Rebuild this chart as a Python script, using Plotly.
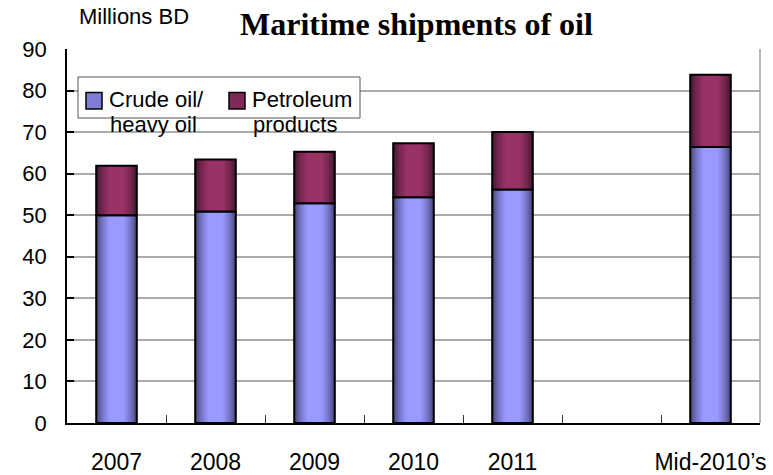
import plotly.graph_objects as go

# Maritime shipments of oil, millions of barrels per day
categories = ["2007", "2008", "2009", "2010", "2011", " ", "Mid-2010\u2019s"]
crude_heavy = [50.0, 50.9, 52.9, 54.3, 56.2, None, 66.4]
petroleum_products = [11.9, 12.5, 12.4, 13.0, 13.8, None, 17.4]
y_ticks = [0, 10, 20, 30, 40, 50, 60, 70, 80, 90]

W, H = 773, 475
L, R, T, B = 67, 13, 49, 52
PW, PH = W - L - R, H - T - B
BAR_W = 0.41
FONT = "Liberation Sans, Arial, sans-serif"


def px(x):
    return (x - L) / PW


def py(y):
    return (H - B - y) / PH


def mix(c1, c2, t):
    return "rgb({},{},{})".format(*[round(a + (b - a) * t) for a, b in zip(c1, c2)])


def shaded_bars(fig, y, base, dark, light, name):
    # cylinder-style shading: nested bars getting narrower and lighter
    n = 12
    for i in range(n):
        f = 1.0 - 0.62 * i / (n - 1)
        t = (i / (n - 1)) ** 0.7
        fig.add_trace(go.Bar(
            x=categories, y=y, base=base, width=BAR_W * f,
            marker=dict(color=mix(dark, light, t), line=dict(width=0)),
            name=name, showlegend=False, hoverinfo="skip"))
    fig.add_trace(go.Bar(
        x=categories, y=y, base=base, width=BAR_W,
        marker=dict(color="rgba(0,0,0,0)", line=dict(color="black", width=2)),
        name=name, showlegend=False))


fig = go.Figure()
shaded_bars(fig, crude_heavy, [0] * len(categories), (66, 66, 115), (153, 153, 255), "Crude oil/heavy oil")
shaded_bars(fig, petroleum_products, crude_heavy, (66, 22, 48), (153, 51, 102), "Petroleum products")

shapes = [
    # right edge of the plot frame
    dict(type="line", xref="paper", yref="paper", x0=1, x1=1, y0=0, y1=1,
         line=dict(color="#a0a0a0", width=1.5)),
    # legend box
    dict(type="rect", xref="paper", yref="paper", x0=px(78), x1=px(360), y0=py(77), y1=py(118),
         line=dict(color="#555555", width=1), fillcolor="white", layer="above"),
    dict(type="rect", xref="paper", yref="paper", x0=px(86), x1=px(102), y0=py(92.5), y1=py(109),
         line=dict(color="black", width=1.5), fillcolor="rgb(125,125,215)", layer="above"),
    dict(type="rect", xref="paper", yref="paper", x0=px(229), x1=px(245), y0=py(92.5), y1=py(109),
         line=dict(color="black", width=1.5), fillcolor="rgb(128,40,88)", layer="above"),
]

annotations = [
    dict(text="<b>Maritime shipments of oil</b>", x=px(416.5), y=py(24), xref="paper", yref="paper",
         showarrow=False, xanchor="center", yanchor="middle",
         font=dict(family="Liberation Serif, Times New Roman, serif", size=32, color="black")),
    dict(text="Millions BD", x=px(134), y=py(16), xref="paper", yref="paper",
         showarrow=False, xanchor="center", yanchor="middle",
         font=dict(family=FONT, size=22, color="black")),
    dict(text="Crude oil/", x=px(107), y=py(99), xref="paper", yref="paper",
         showarrow=False, xanchor="left", yanchor="middle", font=dict(family=FONT, size=22, color="black")),
    dict(text="heavy oil", x=px(108), y=py(124), xref="paper", yref="paper",
         showarrow=False, xanchor="left", yanchor="middle", font=dict(family=FONT, size=22, color="black")),
    dict(text="Petroleum", x=px(250), y=py(99), xref="paper", yref="paper",
         showarrow=False, xanchor="left", yanchor="middle", font=dict(family=FONT, size=22, color="black")),
    dict(text="products", x=px(251), y=py(124), xref="paper", yref="paper",
         showarrow=False, xanchor="left", yanchor="middle", font=dict(family=FONT, size=22, color="black")),
]

fig.update_layout(
    width=W, height=H,
    margin=dict(l=L, r=R, t=T, b=B, autoexpand=False),
    paper_bgcolor="white", plot_bgcolor="white",
    barmode="overlay",
    showlegend=False,
    shapes=shapes, annotations=annotations,
    font=dict(family=FONT, size=22, color="black"),
)
fig.update_xaxes(
    type="category", categoryorder="array", categoryarray=categories,
    range=[-0.5, len(categories) - 0.5], automargin=False, tickangle=0,
    showline=True, linecolor="black", linewidth=2,
    ticks="inside", tickson="boundaries", ticklen=8, tickcolor="#333333", tickwidth=1,
    showgrid=False, tickfont=dict(family=FONT, size=23), ticklabelstandoff=17,
)
fig.update_yaxes(
    range=[0, 90], tickvals=y_ticks, automargin=False,
    showline=True, linecolor="black", linewidth=1.5,
    ticks="inside", ticklen=7, tickcolor="black", tickwidth=1.5,
    showgrid=True, gridcolor="#ababab", gridwidth=1.5, zeroline=False,
    tickfont=dict(family=FONT, size=22), ticklabelstandoff=14,
)

fig.write_html("out.html")
